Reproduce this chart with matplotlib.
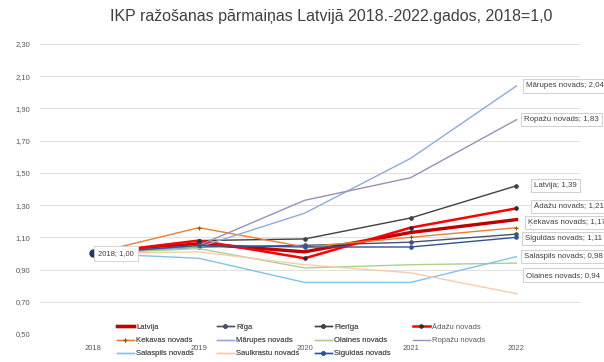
import matplotlib
matplotlib.use('Agg')
import matplotlib.pyplot as plt

plt.rcParams['font.family'] = ['Liberation Sans', 'DejaVu Sans']

years = ['2018', '2019', '2020', '2021', '2022']

latvija = [1.00, 1.06, 1.01, 1.13, 1.21]
riga = [1.00, 1.04, 1.05, 1.07, 1.12]
pieriga = [1.00, 1.08, 1.09, 1.22, 1.42]
adazu = [1.00, 1.08, 0.97, 1.16, 1.28]
kekavas = [1.00, 1.16, 1.04, 1.10, 1.16]
marupes = [1.00, 1.04, 1.25, 1.59, 2.04]
olaines = [1.00, 1.03, 0.91, 0.93, 0.94]
ropazu = [1.00, 1.05, 1.33, 1.47, 1.83]
salaspils = [1.00, 0.97, 0.82, 0.82, 0.98]
saulkrastu = [1.00, 1.01, 0.93, 0.88, 0.75]
siguldas = [1.00, 1.05, 1.04, 1.04, 1.10]

names = ['Latvija', 'Rīga', 'Pierīga', 'Ādažu novads',
         'Ķekavas novads', 'Mārupes novads', 'Olaines novads', 'Ropažu novads',
         'Salaspils novads', 'Saulkrastu novads', 'Siguldas novads']
series = [latvija, riga, pieriga, adazu, kekavas, marupes, olaines, ropazu,
          salaspils, saulkrastu, siguldas]

# (color, linewidth, marker, marker color)
styles = [
    ('#C00000', 2.4, None, None),
    ('#44546A', 1.0, 'o', '#44546A'),
    ('#404040', 1.0, 'o', '#404040'),
    ('#FF0000', 1.8, 'o', '#203040'),
    ('#ED7D31', 1.0, '+', '#7F6000'),
    ('#8FAADC', 1.0, None, None),
    ('#A9D18E', 1.0, None, None),
    ('#9A8FB5', 1.0, None, None),
    ('#7FC4E8', 1.0, None, None),
    ('#F8CBAD', 1.0, None, None),
    ('#2F5597', 1.0, 'o', '#2F5597'),
]

# end labels: series index, text, dx px, dy px
end_labels = [
    (5, 'Mārupes novads; 2,04', 10, 0),
    (7, 'Ropažu novads; 1,83', 8, 0),
    (2, 'Latvija; 1,39', 18, 0),
    (3, 'Ādažu novads; 1,21', 18, 2),
    (4, 'Ķekavas novads; 1,17', 12, 5),
    (10, 'Siguldas novads; 1,11', 9, -1),
    (8, 'Salaspils novads; 0,98', 8, 0),
    (6, 'Olaines novads; 0,94', 10, -12),
]

fig = plt.figure(figsize=(6.04, 3.62), dpi=100)
ax = fig.add_axes([40 / 604, 1 - 334 / 362, 540 / 604, 290 / 362])

x = list(range(len(years)))
handles = []
for name, vals, (c, lw, mk, mc) in zip(names, series, styles):
    h, = ax.plot(x, vals, color=c, lw=lw, marker=mk, ms=2.5, mfc=mc, mec=mc,
                 mew=0.8, zorder=3, label=name)
    handles.append(h)

# start point dot and label
ax.plot(x[0], siguldas[0], 'o', color='#203864', ms=5, zorder=6)
ax.annotate('2018; 1,00', xy=(x[0], siguldas[0]), xytext=(5, 0),
            textcoords='offset pixels', ha='left', va='center',
            fontsize=5.5, color='#404040', zorder=7,
            bbox=dict(boxstyle='square,pad=0.5', fc='white', ec='#D0D0D0', lw=0.6))

for idx, txt, dx, dy in end_labels:
    ax.annotate(txt, xy=(x[-1], series[idx][-1]), xytext=(dx, dy),
                textcoords='offset pixels', ha='left', va='center',
                fontsize=5.7, color='#404040', zorder=7, annotation_clip=False,
                bbox=dict(boxstyle='square,pad=0.4', fc='white', ec='#C8C8C8', lw=0.6))

ax.set_xlim(-0.5, 4.6)
ax.set_ylim(0.5, 2.3)
yt = [0.5 + 0.2 * i for i in range(10)]
ax.set_yticks(yt)
ax.set_yticklabels([f'{v:.2f}'.replace('.', ',') for v in yt])
ax.set_xticks(x)
ax.set_xticklabels(years)
ax.tick_params(axis='both', length=0, labelsize=5.5, labelcolor='#595959')
ax.tick_params(axis='y', pad=7)
ax.tick_params(axis='x', pad=8)
ax.grid(axis='y', color='#E0E0E0', lw=0.7, zorder=0)
for s in ax.spines.values():
    s.set_visible(False)

fig.text(0.548, 1 - 16 / 362, 'IKP ražošanas pārmaiņas Latvijā 2018.-2022.gados, 2018=1,0',
         ha='center', va='center', fontsize=11.5, color='#404040')

# legend: one column per legend, rows fill left-to-right like Excel
col_x = [113, 213, 311, 409]
for ci, cx in enumerate(col_x):
    hs = [handles[i] for i in range(ci, len(handles), 4)]
    lg = fig.legend(hs, [h.get_label() for h in hs], loc='upper left',
                    bbox_to_anchor=(cx / 604, 1 - 320 / 362), frameon=False,
                    fontsize=5.5, handlelength=2.2, handletextpad=0.3,
                    labelspacing=0.75, borderpad=0, labelcolor='#595959')
    if ci < len(col_x) - 1:
        fig.add_artist(lg)

fig.savefig('out.png', dpi=100, facecolor='white')
